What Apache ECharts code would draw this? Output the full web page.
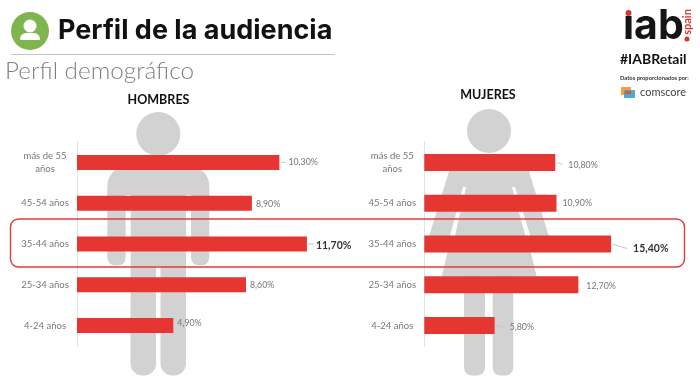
<!DOCTYPE html>
<html>
<head>
<meta charset="utf-8">
<style>html,body{margin:0;padding:0;background:#fff}#c{width:700px;height:379px}</style>
<script src="https://cdn.jsdelivr.net/npm/echarts@6/dist/echarts.min.js"></script>
</head>
<body>
<div id="c"></div>
<script>
const categories = ['más de 55\naños', '45-54 años', '35-44 años', '25-34 años', '4-24 años'];
const hombres = [10.3, 8.9, 11.7, 8.6, 4.9];
const mujeres = [10.8, 10.9, 15.4, 12.7, 5.8];
const highlightIndex = 2;
const hombresShift = [[4, 0], [-1, 1], [4, 2], [-1, 0], [-1, -2]];
const mujeresShift = [[8, 3], [1, 0], [17, 5], [3, 1], [10, 2]];
// leader ticks: series, category, offsets from the bar end
const leaders = [
  [0, 0, 2, 0, 6, 0],
  [0, 2, 1, 0, 7, 0],
  [1, 0, 2, 0, 7, 2],
  [1, 2, 1, 0, 16, 4.5],
  [1, 4, 1, 0, 8, 1.5]
];

const font = 'Lato, "Open Sans", sans-serif';
const grey = '#d2d2d2';
const red = '#e53632';

function fmt(v) { return v.toFixed(2).replace('.', ',') + '%'; }

function barSeries(values, shifts, idx, barWidth) {
  return {
    type: 'bar',
    xAxisIndex: idx,
    yAxisIndex: idx,
    barWidth: barWidth,
    silent: true,
    data: values.map((v, i) => ({
      value: v,
      label: i === highlightIndex
        ? { fontWeight: 'bold', fontSize: 10.5, color: '#333' }
        : {}
    })),
    itemStyle: { color: red },
    label: {
      show: true,
      position: 'right',
      distance: 5,
      fontFamily: font,
      fontSize: 8.8,
      color: '#777',
      formatter: p => fmt(p.value)
    },
    labelLayout: p => ({ dx: shifts[p.dataIndex][0], dy: shifts[p.dataIndex][1] })
  };
}

function valueAxis(idx, max) {
  return { type: 'value', gridIndex: idx, min: 0, max: max, show: false };
}
function catAxis(idx) {
  return {
    type: 'category', gridIndex: idx, inverse: true, data: categories,
    axisTick: { show: false },
    axisLine: { show: true, lineStyle: { color: '#e2e2e2', width: 1 } },
    axisLabel: { fontFamily: font, fontSize: 9.5, lineHeight: 13, color: '#777', margin: 32, align: 'center' }
  };
}

const g = (type, shape, fill, z) => ({ type, shape, style: { fill }, z: z || 0, silent: true });
const txt = (x, y, text, size, weight, color, align, rotation, family) => ({
  type: 'text', x, y, rotation: rotation || 0, silent: true,
  style: { text, fontFamily: family || font, fontSize: size, fontWeight: weight, fill: color, align: align || 'left', verticalAlign: 'middle' }
});

const graphics = [
  // header
  g('circle', { cx: 30, cy: 31, r: 19 }, '#7fb54e'),
  g('circle', { cx: 30, cy: 26, r: 6.5 }, '#fff'),
  g('rect', { x: 20, y: 33, width: 20, height: 7, r: [6, 6, 1, 1] }, '#fff'),
  txt(58, 31, 'Perfil de la audiencia', 27, 'bold', '#111', 'left', 0, 'Inter'),
  { type: 'line', silent: true, shape: { x1: 11, y1: 54.5, x2: 335, y2: 54.5 }, style: { stroke: '#c4c4c4', lineWidth: 1 } },
  txt(5, 71, 'Perfil demográfico', 24.3, 300, '#808080'),
  txt(158.5, 100, 'HOMBRES', 12.5, 'bold', '#111', 'center'),
  txt(488, 95, 'MUJERES', 12.5, 'bold', '#111', 'center'),

  // man silhouette
  g('circle', { cx: 158.3, cy: 134, r: 22 }, grey),
  g('rect', { x: 107.3, y: 166, width: 102, height: 40, r: [20, 20, 0, 0] }, grey),
  g('rect', { x: 107.3, y: 190, width: 18.5, height: 75.5, r: [0, 0, 8, 8] }, grey),
  g('rect', { x: 191, y: 190, width: 18.3, height: 75.5, r: [0, 0, 8, 8] }, grey),
  g('rect', { x: 130.5, y: 190, width: 55.5, height: 76 }, grey),
  g('rect', { x: 130.5, y: 260, width: 25.5, height: 115.5, r: [0, 0, 12, 12] }, grey),
  g('rect', { x: 160.5, y: 260, width: 25.5, height: 115.5, r: [0, 0, 12, 12] }, grey),
  g('rect', { x: 125.8, y: 195, width: 4.7, height: 75 }, '#fff'),
  g('rect', { x: 186, y: 195, width: 5, height: 75 }, '#fff'),

  // woman silhouette
  g('circle', { cx: 489, cy: 131, r: 22 }, grey),
  g('polygon', { points: [[472, 160], [506, 160], [528, 168], [551, 243], [427, 243], [450, 168]] }, grey),
  g('polygon', { points: [[463, 187], [515, 187], [536.7, 276.5], [441.7, 276.5]] }, grey),
  g('polygon', { points: [[463, 187], [466, 187], [454.5, 238], [449.5, 238]] }, '#fff'),
  g('polygon', { points: [[512, 187], [515, 187], [531, 238], [526, 238]] }, '#fff'),
  g('rect', { x: 464, y: 270, width: 21, height: 105.5, r: [0, 0, 8, 8] }, grey),
  g('rect', { x: 492.7, y: 270, width: 20.6, height: 105.5, r: [0, 0, 8, 8] }, grey),

  // highlight box
  { type: 'rect', silent: true, z: 1, shape: { x: 10.5, y: 219, width: 674, height: 48, r: 8 },
    style: { fill: 'transparent', stroke: '#d9403e', lineWidth: 1.4 } },

  // iab logo
  txt(623, 27, 'ıab', 41, 'bold', '#151515', 'left', 0, 'Inter'),
  g('circle', { cx: 628.5, cy: 13, r: 3 }, '#d8342e'),
  txt(687, 22, 'spain', 11, 'bold', '#d8342e', 'center', Math.PI / 2),
  g('circle', { cx: 687, cy: 39, r: 2.5 }, '#d8342e'),
  txt(620, 59, '#IABRetail', 14, 'bold', '#111'),
  txt(620, 78.5, 'Datos proporcionados por:', 5.8, 'bold', '#333'),
  g('rect', { x: 621, y: 87, width: 10, height: 8 }, '#f0a13c'),
  g('rect', { x: 624, y: 90, width: 11, height: 8 }, '#4ea9d9'),
  g('rect', { x: 625, y: 91, width: 6, height: 3 }, '#d65b3a'),
  txt(640, 92.5, 'comscore', 11, 'normal', '#444')
];

const chart = echarts.init(document.getElementById('c'), null, { renderer: 'canvas' });
chart.setOption({
  animation: false,
  backgroundColor: '#fff',
  grid: [
    { left: 77, top: 142, width: 275.1, height: 204 },
    { left: 424.3, top: 142, width: 242.6, height: 204 }
  ],
  xAxis: [valueAxis(0, 14), valueAxis(1, 20)],
  yAxis: [catAxis(0), catAxis(1)],
  series: [barSeries(hombres, hombresShift, 0, 15), barSeries(mujeres, mujeresShift, 1, 17)]
});

const leaderLines = leaders.map(([s, c, x0, y0, x1, y1]) => {
  const v = (s === 0 ? hombres : mujeres)[c];
  const [px, py] = chart.convertToPixel({ seriesIndex: s }, [v, c]);
  return { type: 'line', silent: true, z: 1,
    shape: { x1: px + x0, y1: py + y0, x2: px + x1, y2: py + y1 },
    style: { stroke: '#c4c4c4', lineWidth: 1 } };
});
chart.setOption({ graphic: { elements: graphics.concat(leaderLines) } });
</script>
</body>
</html>
